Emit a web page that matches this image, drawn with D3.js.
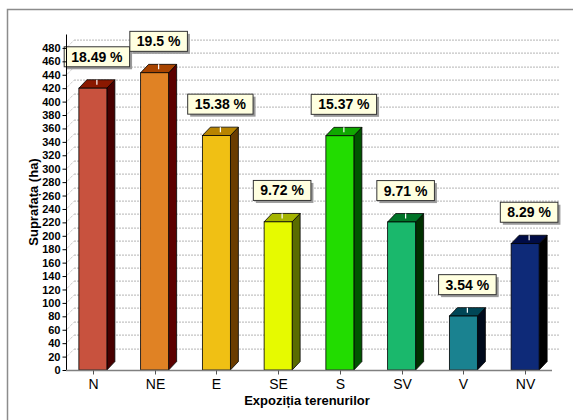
<!DOCTYPE html>
<html>
<head>
<meta charset="utf-8">
<script src="https://cdn.jsdelivr.net/npm/d3@7"></script>
<style>
  body { margin: 0; background: #fff; }
  svg { font-family: Arial, "Liberation Sans", sans-serif; }
</style>
</head>
<body>
<div id="chart"></div>
<script>
// data
var categories = ["N", "NE", "E", "SE", "S", "SV", "V", "NV"];
var areas = [420, 443, 349.4, 220.8, 349.1, 220.6, 80.4, 188.3];
var percents = ["18.49 %", "19.5 %", "15.38 %", "9.72 %", "15.37 %", "9.71 %", "3.54 %", "8.29 %"];
var yTicks = d3.range(0, 481, 20);

// colours: front, top, side
var frontColors = ["#c8523e", "#e08224", "#f0c014", "#e6fa00", "#22dc00", "#1ab86c", "#1a8290", "#0e2a78"];
var topColors = ["#8a1800", "#a84400", "#b88400", "#a4b400", "#10a800", "#007428", "#004656", "#000c46"];
var sideColors = ["#480000", "#5c0000", "#6a3c00", "#5a6c00", "#005400", "#003000", "#000a1c", "#000000"];

var W = 573, H = 420;
var depth = {x: 8, y: 8.4};
var barW = 28;

var svg = d3.select("#chart").append("svg").attr("width", W).attr("height", H);

svg.append("rect").attr("x", 7.5).attr("y", 9.5).attr("width", 600).attr("height", 500)
    .attr("fill", "none").attr("stroke", "#8c8c8c").attr("stroke-width", 1.5);

var x = d3.scaleBand().domain(categories).range([66, 560]);
var y = d3.scaleLinear().domain([0, 500]).range([370, 34.5]);

// grid, drawn on the back plane
var grid = svg.append("g");
yTicks.forEach(function(t) {
    var yy = Math.round(y(t)) + 0.5;
    if (t > 0) {
        grid.append("line").attr("x1", 66).attr("y1", yy).attr("x2", 66 + depth.x).attr("y2", yy - depth.y)
            .attr("stroke", "#b4b4b4").attr("stroke-dasharray", "1,1");
        grid.append("line").attr("x1", 66 + depth.x).attr("y1", yy - depth.y).attr("x2", 560).attr("y2", yy - depth.y)
            .attr("stroke", "#b4b4b4").attr("stroke-dasharray", "2,1");
    }
});

// bars
var bars = svg.append("g").selectAll("g").data(areas).enter().append("g");
bars.each(function(v, i) {
    var g = d3.select(this);
    var cx = x(categories[i]) + x.bandwidth() / 2 - depth.x / 2;
    var x0 = cx - barW / 2, x1 = cx + barW / 2;
    var y0 = y(0), y1 = y(v);
    var dx = depth.x, dy = depth.y;
    g.append("path")
        .attr("d", "M" + x1 + "," + y1 + "L" + (x1 + dx) + "," + (y1 - dy) + "L" + (x1 + dx) + "," + (y0 - dy) + "L" + x1 + "," + y0 + "Z")
        .attr("fill", sideColors[i]).attr("stroke", "#000").attr("stroke-width", 0.8);
    g.append("path")
        .attr("d", "M" + x0 + "," + y1 + "L" + (x0 + dx) + "," + (y1 - dy) + "L" + (x1 + dx) + "," + (y1 - dy) + "L" + x1 + "," + y1 + "Z")
        .attr("fill", topColors[i]).attr("stroke", "#000").attr("stroke-width", 0.8);
    g.append("rect").attr("x", x0).attr("y", y1).attr("width", barW).attr("height", y0 - y1)
        .attr("fill", frontColors[i]).attr("stroke", "#000").attr("stroke-width", 0.8);
    // small white leader on the top face
    g.append("line").attr("x1", cx + dx / 2).attr("y1", y1 - dy).attr("x2", cx + dx / 2).attr("y2", y1 - dy + 5)
        .attr("stroke", "#fff").attr("stroke-width", 1.2);
});

// value labels
bars.each(function(v, i) {
    var g = d3.select(this);
    var cx = x(categories[i]) + x.bandwidth() / 2;
    var by = y(v) - depth.y - 13;
    var t = g.append("text").text(percents[i]).attr("x", cx).attr("y", by - 5)
        .attr("text-anchor", "middle").attr("font-size", "14px").attr("font-weight", "bold").attr("fill", "#000");
    var w = t.node().getComputedTextLength() + 14;
    g.insert("rect", "text").attr("x", cx - w / 2 + 2.5).attr("y", by - 20 + 2.5).attr("width", w).attr("height", 20)
        .attr("fill", "#9a9a9a");
    g.insert("rect", "text").attr("x", cx - w / 2).attr("y", by - 20).attr("width", w).attr("height", 20)
        .attr("fill", "#ffffe0").attr("stroke", "#333").attr("stroke-width", 1);
});

// y axis
var yAxis = d3.axisLeft(y).tickValues(yTicks).tickSize(4).tickPadding(2);
var ya = svg.append("g").attr("transform", "translate(66.5,0)").call(yAxis);
ya.select(".domain").attr("stroke", "#000").attr("d", "M0," + y(0) + "V" + y(500));
ya.selectAll("text").attr("font-size", "11px").attr("font-weight", "bold").attr("font-family", "Arial, 'Liberation Sans', sans-serif");

// x axis
var xa = svg.append("g").attr("transform", "translate(0,370.5)");
xa.append("line").attr("x1", 66).attr("x2", 552).attr("stroke", "#808080").attr("stroke-width", 1.5);
categories.forEach(function(c) {
    var cx = Math.round(x(c) + x.bandwidth() / 2 - depth.x / 2) + 0.5;
    xa.append("line").attr("x1", cx).attr("x2", cx).attr("y1", 0).attr("y2", 4).attr("stroke", "#555");
    xa.append("text").text(c).attr("x", cx).attr("y", 18).attr("text-anchor", "middle")
        .attr("font-size", "14px").attr("fill", "#000");
});

// axis titles
svg.append("text").text("Expoziția terenurilor").attr("x", 307).attr("y", 405)
    .attr("text-anchor", "middle").attr("font-size", "13px").attr("font-weight", "bold");
svg.append("text").text("Suprafața (ha)").attr("transform", "translate(38,202) rotate(-90)")
    .attr("text-anchor", "middle").attr("font-size", "13px").attr("font-weight", "bold");
</script>
</body>
</html>
